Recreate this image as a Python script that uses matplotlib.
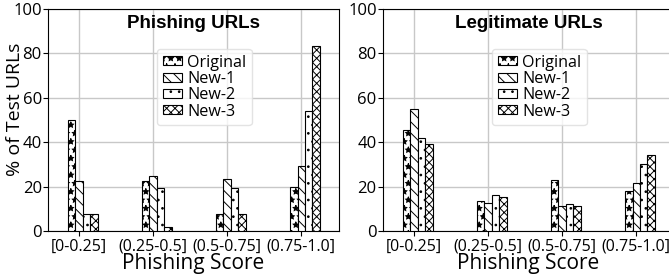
import matplotlib.pyplot as plt
import numpy as np

plt.rcParams['font.family'] = ['Open Sans', 'DejaVu Sans']
plt.rcParams['hatch.linewidth'] = 0.7

categories = ["[0-0.25]", "(0.25-0.5]", "(0.5-0.75]", "(0.75-1.0]"]
series = ["Original", "New-1", "New-2", "New-3"]
hatches = ["**", "\\\\\\", "..", "xxxx"]

phish_original = [50.0, 22.6, 7.6, 20.0]
phish_new1 = [22.6, 25.0, 23.4, 29.4]
phish_new2 = [7.5, 19.3, 19.3, 54.2]
phish_new3 = [7.5, 1.8, 7.6, 83.4]

legit_original = [45.3, 13.7, 23.0, 17.9]
legit_new1 = [54.8, 12.8, 11.3, 21.5]
legit_new2 = [41.9, 16.1, 12.0, 30.0]
legit_new3 = [39.4, 15.5, 11.1, 34.3]

fig = plt.figure(figsize=(6.69, 2.78), dpi=100)
ax1 = fig.add_axes([48 / 669, 47 / 278, 291 / 669, 222 / 278])
ax2 = fig.add_axes([383 / 669, 47 / 278, 291 / 669, 222 / 278])

x = np.arange(len(categories))
w = 0.1


def draw(ax, data, title):
    for i, (vals, h, name) in enumerate(zip(data, hatches, series)):
        ax.bar(x + (i - 1) * w, vals, w, color="white", edgecolor="black",
               hatch=h, linewidth=0.8, label=name, zorder=3)
    ax.set_xticks(x)
    ax.set_xticklabels(categories, fontsize=11.5)
    ax.set_xlim(-0.42, 3.51)
    ax.set_ylim(0, 100)
    ax.set_yticks(range(0, 101, 20))
    ax.tick_params(axis="y", labelsize=12, pad=1)
    ax.tick_params(axis="x", pad=2)
    ax.grid(True, color="#c8c8c8", linewidth=1)
    ax.set_axisbelow(True)
    ax.set_xlabel("Phishing Score", fontsize=15, labelpad=-1)
    ax.text(0.5, 0.975, title, transform=ax.transAxes, ha="center", va="top",
            fontsize=13.5, fontweight="bold", family="Liberation Sans")
    ax.legend(loc="upper left", bbox_to_anchor=(0.375, 0.82), borderaxespad=0,
              fontsize=11.6, handlelength=1.2, handleheight=0.5, handletextpad=0.3,
              labelspacing=0.02, borderpad=0.35, edgecolor="#dddddd")


draw(ax1, [phish_original, phish_new1, phish_new2, phish_new3], "Phishing URLs")
draw(ax2, [legit_original, legit_new1, legit_new2, legit_new3], "Legitimate URLs")
ax1.set_ylabel("% of Test URLs", fontsize=14)
ax1.yaxis.set_label_coords(-0.082, 0.55)

fig.savefig("out.png", dpi=100)
